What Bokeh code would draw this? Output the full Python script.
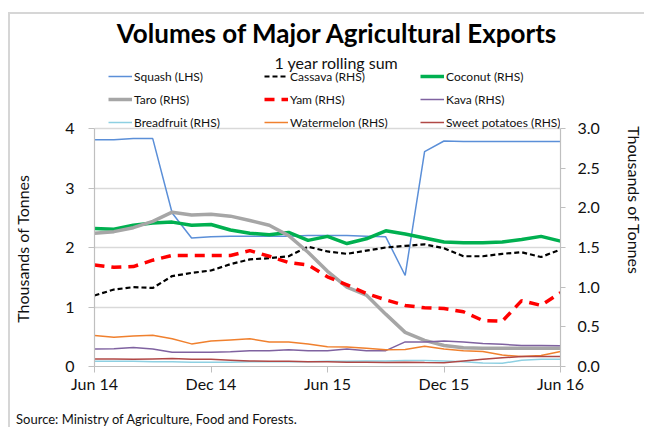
from bokeh.plotting import figure
from bokeh.models import (Range1d, LinearAxis, FixedTicker, Legend, LegendItem, Label,
                          NumeralTickFormatter)
from bokeh.embed import file_html
from bokeh.resources import INLINE

# ---------------- data ----------------
months = ["Jun 14", "Jul 14", "Aug 14", "Sep 14", "Oct 14", "Nov 14", "Dec 14",
          "Jan 15", "Feb 15", "Mar 15", "Apr 15", "May 15", "Jun 15", "Jul 15",
          "Aug 15", "Sep 15", "Oct 15", "Nov 15", "Dec 15", "Jan 16", "Feb 16",
          "Mar 16", "Apr 16", "May 16", "Jun 16"]
x_tick_labels = ["Jun 14", "Dec 14", "Jun 15", "Dec 15", "Jun 16"]

squash = [3.81, 3.81, 3.83, 3.83, 2.58, 2.16, 2.18, 2.19, 2.19, 2.19, 2.19, 2.20, 2.20,
          2.20, 2.19, 2.18, 1.53, 3.61, 3.79, 3.78, 3.78, 3.78, 3.78, 3.78, 3.78]
cassava = [0.895, 0.97, 1.00, 0.99, 1.14, 1.18, 1.21, 1.29, 1.35, 1.365, 1.39, 1.51, 1.45,
           1.42, 1.46, 1.50, 1.52, 1.54, 1.49, 1.39, 1.39, 1.42, 1.44, 1.38, 1.475]
coconut = [1.74, 1.73, 1.78, 1.81, 1.82, 1.78, 1.79, 1.72, 1.68, 1.66, 1.69, 1.59, 1.64,
           1.55, 1.61, 1.71, 1.67, 1.62, 1.57, 1.56, 1.56, 1.57, 1.60, 1.64, 1.58]
taro = [1.68, 1.70, 1.75, 1.83, 1.945, 1.91, 1.92, 1.895, 1.84, 1.78, 1.65, 1.44, 1.20,
        1.00, 0.90, 0.66, 0.43, 0.33, 0.265, 0.235, 0.23, 0.23, 0.23, 0.23, 0.23]
yam = [1.28, 1.25, 1.26, 1.34, 1.40, 1.40, 1.40, 1.40, 1.46, 1.39, 1.31, 1.28, 1.13,
       1.03, 0.92, 0.84, 0.77, 0.74, 0.73, 0.69, 0.58, 0.57, 0.83, 0.77, 0.93]
kava = [0.22, 0.225, 0.24, 0.22, 0.18, 0.18, 0.18, 0.185, 0.20, 0.20, 0.21, 0.20, 0.20,
        0.22, 0.20, 0.20, 0.31, 0.31, 0.32, 0.31, 0.29, 0.28, 0.265, 0.265, 0.26]
breadfruit = [0.065, 0.065, 0.065, 0.06, 0.06, 0.055, 0.055, 0.055, 0.06, 0.06, 0.06, 0.06,
              0.065, 0.065, 0.07, 0.07, 0.075, 0.075, 0.07, 0.06, 0.045, 0.04, 0.08, 0.09, 0.09]
watermelon = [0.39, 0.37, 0.385, 0.395, 0.35, 0.285, 0.32, 0.335, 0.35, 0.31, 0.31, 0.285,
              0.25, 0.245, 0.23, 0.21, 0.215, 0.255, 0.22, 0.20, 0.19, 0.145, 0.125, 0.14, 0.19]
sweet_potatoes = [0.095, 0.095, 0.09, 0.095, 0.10, 0.09, 0.09, 0.08, 0.07, 0.065, 0.065, 0.06,
                  0.06, 0.055, 0.055, 0.05, 0.055, 0.05, 0.047, 0.07, 0.09, 0.11, 0.125, 0.125, 0.125]

lhs_ticks = [0, 1, 2, 3, 4]
rhs_ticks = [0, 0.5, 1.0, 1.5, 2.0, 2.5, 3.0]
LHS_MAX, RHS_MAX = 4, 3
SOURCE = "Source: Ministry of Agriculture, Food and Forests."

FONT = "Lato"
x = list(range(len(months)))

# layout: frame extends up to the canvas top so that title/legend live inside it
W = 636
FRAME_H = 352          # pixels from canvas top to the x axis
AXIS_H = 238           # pixels covered by the 0..4 LHS scale
BOTTOM = 63
top_ext = FRAME_H / AXIS_H

p = figure(width=W, height=FRAME_H + BOTTOM, output_backend="svg", toolbar_location=None,
           x_range=Range1d(0, len(months) - 1), y_range=Range1d(0, LHS_MAX * top_ext),
           min_border_left=82, min_border_right=84, min_border_top=0, min_border_bottom=BOTTOM)
p.margin = (12, 0, 0, 8)
p.styles = {"border-top": "2px solid #D6D6D6", "border-left": "2px solid #D6D6D6"}
p.title.visible = False
p.extra_y_ranges = {"rhs": Range1d(0, RHS_MAX * top_ext)}
p.outline_line_color = None
p.background_fill_color = "white"
p.border_fill_color = "white"

p.xgrid.visible = False
p.ygrid.ticker = FixedTicker(ticks=lhs_ticks)
p.ygrid.grid_line_color = "#D9D9D9"
p.ygrid.grid_line_width = 1.5

AX = "#BFBFBF"
TXT = "#111111"
EM, EN = "\u2003", "\u2002"   # spacing used to shift the axis titles along their axes

def style_axis(ax, tick_out):
    ax.axis_line_color = AX
    ax.axis_line_width = 1.2
    ax.major_tick_line_color = AX
    ax.major_tick_out = tick_out
    ax.major_tick_in = 0
    ax.minor_tick_line_color = None
    ax.major_label_text_font = FONT
    ax.major_label_text_font_size = "16px"
    ax.major_label_text_color = TXT
    ax.axis_label_text_font = FONT
    ax.axis_label_text_font_size = "16px"
    ax.axis_label_text_font_style = "normal"
    ax.axis_label_text_color = TXT

xa = p.xaxis[0]
style_axis(xa, 6)
xa.ticker = FixedTicker(ticks=[months.index(m) for m in x_tick_labels])
xa.major_label_overrides = {months.index(m): m for m in x_tick_labels}
xa.major_label_standoff = 1
# source note, set under the dates
xa.axis_label = SOURCE + EM * 35
xa.axis_label_text_font_size = "13px"
xa.axis_label_standoff = 15

ya = p.yaxis[0]
style_axis(ya, 6)
ya.bounds = (0, LHS_MAX)
ya.ticker = FixedTicker(ticks=lhs_ticks)
ya.major_label_standoff = 14
ya.axis_label = "Thousands of Tonnes" + EM * 9 + EN
ya.axis_label_standoff = 30

ra = LinearAxis(y_range_name="rhs")
style_axis(ra, 5)
ra.bounds = (0, RHS_MAX)
ra.ticker = FixedTicker(ticks=rhs_ticks)
ra.formatter = NumeralTickFormatter(format="0.0")
ra.major_label_standoff = 12
ra.axis_label = EM + EN + "Thousands of Tonnes"
ra.axis_label_standoff = 22
p.add_layout(ra, "right")

# series
r_squash = p.line(x, squash, line_color="#5B8FD8", line_width=1.5)
r_cassava = p.line(x, cassava, y_range_name="rhs", line_color="black", line_width=2.2, line_dash="5 3")
r_coconut = p.line(x, coconut, y_range_name="rhs", line_color="#00B050", line_width=3.5)
r_taro = p.line(x, taro, y_range_name="rhs", line_color="#A6A6A6", line_width=3.5)
r_yam = p.line(x, yam, y_range_name="rhs", line_color="#FF0000", line_width=3.5, line_dash="10 7")
r_kava = p.line(x, kava, y_range_name="rhs", line_color="#7F62A0", line_width=1.5)
r_bread = p.line(x, breadfruit, y_range_name="rhs", line_color="#8ED0E2", line_width=1.5)
r_water = p.line(x, watermelon, y_range_name="rhs", line_color="#F0802E", line_width=1.5)
r_sweet = p.line(x, sweet_potatoes, y_range_name="rhs", line_color="#B04846", line_width=1.5)

items = [
    LegendItem(label="Squash (LHS)", renderers=[r_squash]),
    LegendItem(label="Cassava (RHS)", renderers=[r_cassava]),
    LegendItem(label="Coconut (RHS)", renderers=[r_coconut]),
    LegendItem(label="Taro (RHS)", renderers=[r_taro]),
    LegendItem(label="Yam (RHS)", renderers=[r_yam]),
    LegendItem(label="Kava (RHS)", renderers=[r_kava]),
    LegendItem(label="Breadfruit (RHS)", renderers=[r_bread]),
    LegendItem(label="Watermelon (RHS)", renderers=[r_water]),
    LegendItem(label="Sweet potatoes (RHS)", renderers=[r_sweet]),
]
legend = Legend(items=items, ncols=3, orientation="horizontal", location=(14, 234),
                padding=0, margin=0, spacing=3, glyph_width=24, glyph_height=20,
                label_standoff=2, label_width=127, label_height=20,
                label_text_font=FONT, label_text_font_size="12px", label_text_color=TXT,
                border_line_color=None, background_fill_alpha=0)
p.add_layout(legend)

p.add_layout(Label(x=243, y=334, x_units="screen", y_units="screen",
                   text="Volumes of Major Agricultural Exports", text_align="center",
                   text_baseline="middle", text_font=FONT, text_font_style="bold",
                   text_font_size="26px", text_color="black"))
p.add_layout(Label(x=242, y=304, x_units="screen", y_units="screen",
                   text="1 year rolling sum", text_align="center", text_baseline="middle",
                   text_font=FONT, text_font_size="16px", text_color=TXT))

open("out.html", "w").write(file_html(p, INLINE))
